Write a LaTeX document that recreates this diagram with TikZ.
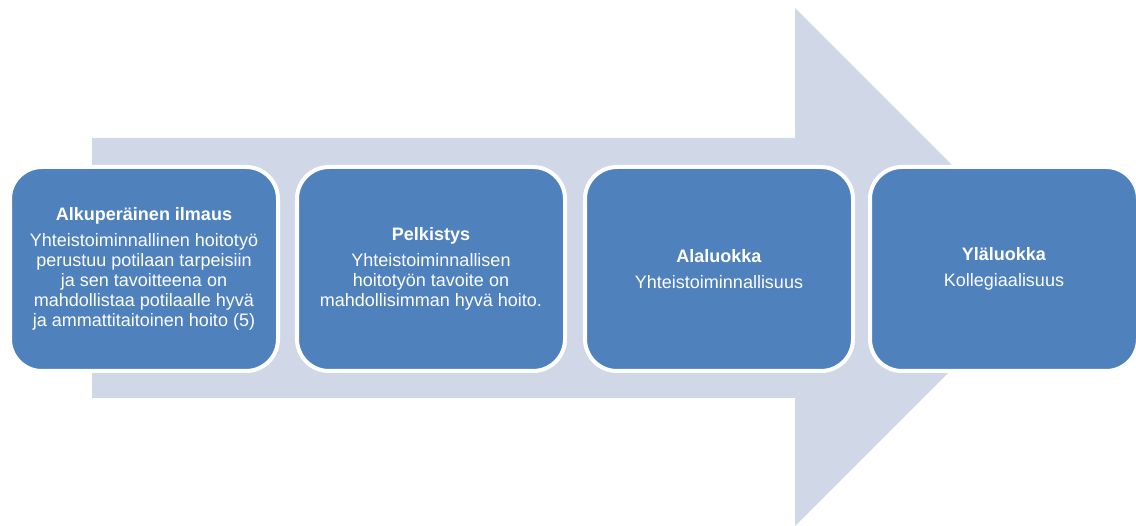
\documentclass[tikz,border=0pt]{standalone}
\usepackage{fontspec}
\setmainfont{Liberation Sans}
\usepackage{xcolor}
\definecolor{arrowcolor}{RGB}{208,216,232}
\definecolor{boxcolor}{RGB}{79,129,189}

\tikzset{
    stagebox/.style={
        draw=white, line width=4pt, fill=boxcolor, rounded corners=32pt,
        minimum width=268pt, minimum height=204pt, inner sep=4pt,
        text=white, align=center, font=\fontsize{18}{20}\selectfont
    }
}

\begin{document}
\begin{tikzpicture}[x=1pt, y=-1pt]

% Canvas: 1136 x 526, y runs downwards
\useasboundingbox (0,0) rectangle (1136,526);

% Background arrow
\fill[arrowcolor] (92,138) -- (795,138) -- (795,8) -- (1054,267)
    -- (795,526) -- (795,398) -- (92,398) -- cycle;

% Stages
\node[stagebox] (orig) at (144,269) {%
    \textbf{Alkuperäinen ilmaus}\\[6pt]
    Yhteistoiminnallinen hoitotyö\\
    perustuu potilaan tarpeisiin\\
    ja sen tavoitteena on\\
    mahdollistaa potilaalle hyvä\\
    ja ammattitaitoinen hoito (5)};

\node[stagebox] (pelk) at (431,269) {%
    \textbf{Pelkistys}\\[6pt]
    Yhteistoiminnallisen\\
    hoitotyön tavoite on\\
    mahdollisimman hyvä hoito.};

\node[stagebox] (alal) at (719,269) {%
    \textbf{Alaluokka}\\[6pt]
    Yhteistoiminnallisuus};

\node[stagebox] (ylal) at (1004,269) {%
    \textbf{Yläluokka}\\[6pt]
    Kollegiaalisuus};

\end{tikzpicture}
\end{document}
